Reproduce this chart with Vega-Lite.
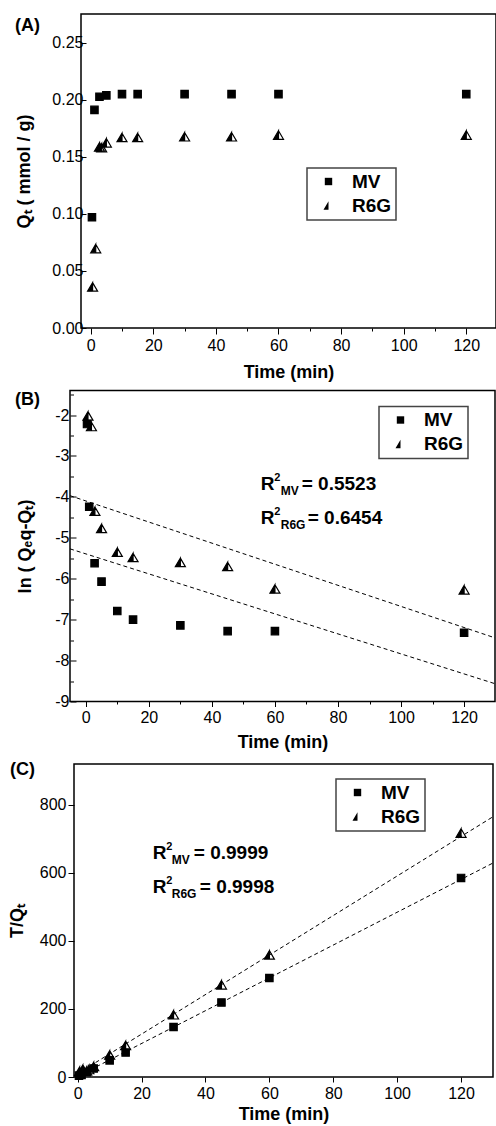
{
  "$schema": "https://vega.github.io/schema/vega-lite/v6.json",
  "padding": {"left": 0, "top": 13, "right": 0, "bottom": 0},
  "spacing": 7.5,
  "resolve": {"scale": {"shape": "independent"}, "legend": {"shape": "independent"}},
  "config": {
    "font": "Liberation Sans",
    "view": {"stroke": "black", "strokeWidth": 1.5},
    "axis": {"domain": false, "grid": false, "tickColor": "black", "tickWidth": 1, "labelColor": "black", "labelFontSize": 16, "labelPadding": 3, "titleFontSize": 18, "titleFontWeight": "bold", "titleColor": "black"},
    "legend": {"orient": "none", "strokeColor": "#444", "strokeWidth": 1.5, "padding": 4, "symbolOffset": 8, "labelOffset": 14, "labelFontSize": 19, "labelFontWeight": "bold", "labelColor": "black", "rowPadding": 4, "symbolSize": 100, "symbolFillColor": "black", "symbolStrokeColor": "black", "symbolStrokeWidth": 1.2, "symbolOpacity": 1},
    "title": {"font": "Liberation Sans", "fontSize": 18, "fontWeight": "bold", "color": "black", "anchor": "start", "frame": "group", "offset": 0, "baseline": "alphabetic"}
  },
  "datasets": {
    "qt": [
      {"series": "MV", "t": 0.4, "v": 0.097},
      {"series": "MV", "t": 1.2, "v": 0.191},
      {"series": "MV", "t": 2.8, "v": 0.2025},
      {"series": "MV", "t": 5, "v": 0.2037},
      {"series": "MV", "t": 10, "v": 0.2048},
      {"series": "MV", "t": 15, "v": 0.2048},
      {"series": "MV", "t": 30, "v": 0.2048},
      {"series": "MV", "t": 45, "v": 0.2048},
      {"series": "MV", "t": 60, "v": 0.2048},
      {"series": "MV", "t": 120, "v": 0.2048},
      {"series": "R6G", "t": 0.6, "v": 0.036},
      {"series": "R6G", "t": 1.6, "v": 0.0696},
      {"series": "R6G", "t": 2.8, "v": 0.1586},
      {"series": "R6G", "t": 3.5, "v": 0.158},
      {"series": "R6G", "t": 5, "v": 0.1622},
      {"series": "R6G", "t": 10, "v": 0.1669},
      {"series": "R6G", "t": 15, "v": 0.1669},
      {"series": "R6G", "t": 30, "v": 0.1675},
      {"series": "R6G", "t": 45, "v": 0.1675},
      {"series": "R6G", "t": 60, "v": 0.169},
      {"series": "R6G", "t": 120, "v": 0.169}
    ],
    "lnq": [
      {"series": "MV", "t": 0.4, "v": -2.22},
      {"series": "MV", "t": 1.1, "v": -4.24},
      {"series": "MV", "t": 2.8, "v": -5.62},
      {"series": "MV", "t": 5, "v": -6.07},
      {"series": "MV", "t": 10, "v": -6.79},
      {"series": "MV", "t": 15, "v": -7.0},
      {"series": "MV", "t": 30, "v": -7.14},
      {"series": "MV", "t": 45, "v": -7.28},
      {"series": "MV", "t": 60, "v": -7.28},
      {"series": "MV", "t": 120, "v": -7.32},
      {"series": "R6G", "t": 0.7, "v": -2.02},
      {"series": "R6G", "t": 1.8, "v": -2.28},
      {"series": "R6G", "t": 2.9, "v": -4.35},
      {"series": "R6G", "t": 5, "v": -4.77},
      {"series": "R6G", "t": 10, "v": -5.35},
      {"series": "R6G", "t": 15, "v": -5.48},
      {"series": "R6G", "t": 30, "v": -5.6},
      {"series": "R6G", "t": 45, "v": -5.7},
      {"series": "R6G", "t": 60, "v": -6.25},
      {"series": "R6G", "t": 120, "v": -6.27}
    ],
    "fitB": [
      {"series": "R6G", "t": -5, "v": -3.97},
      {"series": "R6G", "t": 130, "v": -7.45},
      {"series": "MV", "t": -5, "v": -5.27},
      {"series": "MV", "t": 130, "v": -8.57}
    ],
    "r2B": [
      {"sub": "MV", "val": "= 0.5523", "t": 55.5, "v": -3.83},
      {"sub": "R6G", "val": "= 0.6454", "t": 55.5, "v": -4.66}
    ],
    "tq": [
      {"series": "MV", "t": 0.4, "v": 4},
      {"series": "MV", "t": 1.2, "v": 6},
      {"series": "MV", "t": 2.8, "v": 14},
      {"series": "MV", "t": 5, "v": 25},
      {"series": "MV", "t": 10, "v": 49},
      {"series": "MV", "t": 15, "v": 72},
      {"series": "MV", "t": 30, "v": 147},
      {"series": "MV", "t": 45, "v": 219},
      {"series": "MV", "t": 60, "v": 291},
      {"series": "MV", "t": 120, "v": 585},
      {"series": "R6G", "t": 0.6, "v": 17},
      {"series": "R6G", "t": 1.6, "v": 23},
      {"series": "R6G", "t": 2.8, "v": 18},
      {"series": "R6G", "t": 3.5, "v": 22},
      {"series": "R6G", "t": 5, "v": 31},
      {"series": "R6G", "t": 10, "v": 65},
      {"series": "R6G", "t": 15, "v": 93},
      {"series": "R6G", "t": 30, "v": 183},
      {"series": "R6G", "t": 45, "v": 271},
      {"series": "R6G", "t": 60, "v": 359},
      {"series": "R6G", "t": 120, "v": 717}
    ],
    "fitC": [
      {"series": "R6G", "t": 0, "v": 10},
      {"series": "R6G", "t": 130, "v": 765},
      {"series": "MV", "t": 0, "v": 2},
      {"series": "MV", "t": 130, "v": 629}
    ],
    "r2C": [
      {"sub": "MV", "val": "= 0.9999", "t": 23.5, "v": 640},
      {"sub": "R6G", "val": "= 0.9998", "t": 23.5, "v": 540}
    ]
  },
  "vconcat": [
    {
      "hconcat": [
        {"width": 81, "height": 1, "data": {"values": []}, "mark": "point", "view": {"stroke": null}},
        {
          "width": 415,
          "height": 314,
          "title": {"text": "(A)", "dx": -66, "dy": 24.5},
          "data": {"name": "qt"},
          "mark": {"type": "point", "filled": true, "color": "black", "stroke": "black", "strokeWidth": 1.2, "size": 100, "opacity": 1},
          "encoding": {
            "x": {"field": "t", "type": "quantitative", "scale": {"domain": [-3.1, 129.5], "nice": false, "zero": false},
              "axis": {"title": "Time (min)", "values": [0, 10, 20, 30, 40, 50, 60, 70, 80, 90, 100, 110, 120], "labelExpr": "datum.value % 20 === 0 ? datum.label : ''", "tickSize": {"condition": {"test": "datum.value % 20 === 0", "value": 6}, "value": 3}, "titlePadding": 10}},
            "y": {"field": "v", "type": "quantitative", "scale": {"domain": [0, 0.275], "nice": false, "zero": false},
              "axis": {"title": "Qₜ ( mmol / g)", "values": [0, 0.05, 0.1, 0.15, 0.2, 0.25], "format": ".2f", "tickSize": -5, "labelPadding": 3, "titlePadding": 18}},
            "shape": {"field": "series", "type": "nominal", "scale": {"domain": ["MV", "R6G"], "range": ["M-0.74,-0.74H0.74V0.74H-0.74Z", "M0,-0.85L0,0.85L-1,0.85Z M0,-0.85L1,0.85L0,0.85L1,0.85Z"]},
              "legend": {"title": null, "legendX": 307, "legendY": 154}}
          }
        }
      ],
      "spacing": 0,
      "bounds": "flush"
    },
    {
      "hconcat": [
        {"width": 70, "height": 1, "data": {"values": []}, "mark": "point", "view": {"stroke": null}},
        {
          "width": 425,
          "height": 311,
          "title": {"text": "(B)", "dx": -55, "dy": 22.5},
          "encoding": {
            "x": {"field": "t", "type": "quantitative", "scale": {"domain": [-5, 129.8], "nice": false, "zero": false},
              "axis": {"title": "Time (min)", "values": [0, 10, 20, 30, 40, 50, 60, 70, 80, 90, 100, 110, 120], "labelExpr": "datum.value % 20 === 0 ? datum.label : ''", "tickSize": {"condition": {"test": "datum.value % 20 === 0", "value": 5}, "value": 2.5}, "titlePadding": 8}},
            "y": {"field": "v", "type": "quantitative", "scale": {"domain": [-9, -1.4], "nice": false, "zero": false},
              "axis": {"title": "ln ( Qₑq-Qₜ)", "values": [-9, -8.5, -8, -7.5, -7, -6.5, -6, -5.5, -5, -4.5, -4, -3.5, -3, -2.5, -2, -1.5], "labelExpr": "datum.value % 1 === 0 ? '-' + abs(datum.value) : ''", "tickSize": {"condition": {"test": "datum.value % 1 === 0", "value": -6}, "value": -3.5}, "labelPadding": 7, "titlePadding": 20}}
          },
          "layer": [
            {
              "data": {"name": "fitB"},
              "mark": {"type": "line", "color": "black", "strokeWidth": 1, "strokeDash": [4, 3], "clip": true},
              "encoding": {"detail": {"field": "series"}}
            },
            {
              "data": {"name": "lnq"},
              "mark": {"type": "point", "filled": true, "color": "black", "stroke": "black", "strokeWidth": 1.2, "size": 100, "opacity": 1},
              "encoding": {
                "shape": {"field": "series", "type": "nominal", "scale": {"domain": ["MV", "R6G"], "range": ["M-0.74,-0.74H0.74V0.74H-0.74Z", "M0,-0.85L0,0.85L-1,0.85Z M0,-0.85L1,0.85L0,0.85L1,0.85Z"]},
                  "legend": {"title": null, "legendX": 379, "legendY": 16}}
              }
            },
            {
              "data": {"name": "r2B"},
              "mark": {"type": "text", "text": "R", "align": "left", "baseline": "alphabetic", "fontSize": 19, "fontWeight": "bold", "color": "black"}
            },
            {
              "data": {"name": "r2B"},
              "mark": {"type": "text", "text": "2", "align": "left", "baseline": "alphabetic", "fontSize": 11, "fontWeight": "bold", "color": "black", "dx": 13.5, "dy": -9}
            },
            {
              "data": {"name": "r2B"},
              "mark": {"type": "text", "align": "left", "baseline": "alphabetic", "fontSize": 12, "fontWeight": "bold", "color": "black", "dx": 20, "dy": 5},
              "encoding": {"text": {"field": "sub"}}
            },
            {
              "data": {"name": "r2B"},
              "transform": [{"filter": "datum.sub === 'MV'"}],
              "mark": {"type": "text", "align": "left", "baseline": "alphabetic", "fontSize": 19, "fontWeight": "bold", "color": "black", "dx": 41},
              "encoding": {"text": {"field": "val"}}
            },
            {
              "data": {"name": "r2B"},
              "transform": [{"filter": "datum.sub === 'R6G'"}],
              "mark": {"type": "text", "align": "left", "baseline": "alphabetic", "fontSize": 19, "fontWeight": "bold", "color": "black", "dx": 47},
              "encoding": {"text": {"field": "val"}}
            }
          ]
        }
      ],
      "spacing": 0,
      "bounds": "flush"
    },
    {
      "hconcat": [
        {"width": 74, "height": 1, "data": {"values": []}, "mark": "point", "view": {"stroke": null}},
        {
          "width": 419,
          "height": 313,
          "title": {"text": "(C)", "dx": -64, "dy": 18.75},
          "encoding": {
            "x": {"field": "t", "type": "quantitative", "scale": {"domain": [-1.16, 130], "nice": false, "zero": false},
              "axis": {"title": "Time (min)", "values": [0, 20, 40, 60, 80, 100, 120], "tickSize": 5, "titlePadding": 4}},
            "y": {"field": "v", "type": "quantitative", "scale": {"domain": [0, 920], "nice": false, "zero": false},
              "axis": {"title": "T/Qₜ", "values": [0, 200, 400, 600, 800], "tickSize": 6, "labelPadding": 2, "titlePadding": 13}}
          },
          "layer": [
            {
              "data": {"name": "fitC"},
              "mark": {"type": "line", "color": "black", "strokeWidth": 1, "strokeDash": [4, 3], "clip": true},
              "encoding": {"detail": {"field": "series"}}
            },
            {
              "data": {"name": "tq"},
              "mark": {"type": "point", "filled": true, "color": "black", "stroke": "black", "strokeWidth": 1.2, "size": 100, "opacity": 1},
              "encoding": {
                "shape": {"field": "series", "type": "nominal", "scale": {"domain": ["MV", "R6G"], "range": ["M-0.74,-0.74H0.74V0.74H-0.74Z", "M0,-0.85L0,0.85L-1,0.85Z M0,-0.85L1,0.85L0,0.85L1,0.85Z"]},
                  "legend": {"title": null, "legendX": 336, "legendY": 15}}
              }
            },
            {
              "data": {"name": "r2C"},
              "mark": {"type": "text", "text": "R", "align": "left", "baseline": "alphabetic", "fontSize": 19, "fontWeight": "bold", "color": "black"}
            },
            {
              "data": {"name": "r2C"},
              "mark": {"type": "text", "text": "2", "align": "left", "baseline": "alphabetic", "fontSize": 11, "fontWeight": "bold", "color": "black", "dx": 13.5, "dy": -9}
            },
            {
              "data": {"name": "r2C"},
              "mark": {"type": "text", "align": "left", "baseline": "alphabetic", "fontSize": 12, "fontWeight": "bold", "color": "black", "dx": 19, "dy": 5},
              "encoding": {"text": {"field": "sub"}}
            },
            {
              "data": {"name": "r2C"},
              "transform": [{"filter": "datum.sub === 'MV'"}],
              "mark": {"type": "text", "align": "left", "baseline": "alphabetic", "fontSize": 19, "fontWeight": "bold", "color": "black", "dx": 41},
              "encoding": {"text": {"field": "val"}}
            },
            {
              "data": {"name": "r2C"},
              "transform": [{"filter": "datum.sub === 'R6G'"}],
              "mark": {"type": "text", "align": "left", "baseline": "alphabetic", "fontSize": 19, "fontWeight": "bold", "color": "black", "dx": 47},
              "encoding": {"text": {"field": "val"}}
            }
          ]
        }
      ],
      "spacing": 0,
      "bounds": "flush"
    }
  ]
}
